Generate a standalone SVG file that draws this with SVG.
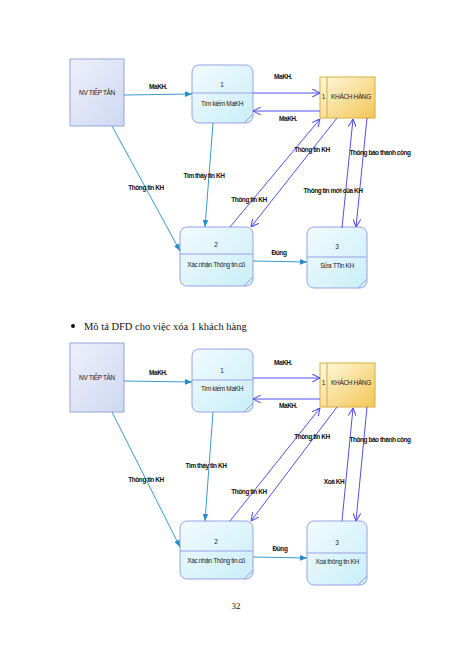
<svg xmlns="http://www.w3.org/2000/svg" width="474" height="652" viewBox="0 0 474 652">
<defs>
<linearGradient id="gNV" x1="0" y1="0" x2="1" y2="1"><stop offset="0" stop-color="#eef0fb"/><stop offset="1" stop-color="#cfd8f2"/></linearGradient>
<linearGradient id="gP" x1="0" y1="0" x2="1" y2="1"><stop offset="0" stop-color="#f2fbfe"/><stop offset="1" stop-color="#c9eef8"/></linearGradient>
<linearGradient id="gS" x1="0" y1="0" x2="1" y2="1"><stop offset="0" stop-color="#fff8e0"/><stop offset="1" stop-color="#f3c656"/></linearGradient>
<marker id="aC" viewBox="0 0 10 10" refX="10" refY="5" markerWidth="7" markerHeight="7" orient="auto" markerUnits="userSpaceOnUse"><path d="M0,1 L10,5 L0,9 z" fill="#2a8cc4"/></marker>
<marker id="aV" viewBox="0 0 10 10" refX="10" refY="5" markerWidth="8" markerHeight="8" orient="auto" markerUnits="userSpaceOnUse"><path d="M0,0 L10,5 L0,10" fill="none" stroke="#4a4ae8" stroke-width="1.3"/></marker>
</defs>
<style>
.nv{fill:url(#gNV);stroke:#95a6d8;stroke-width:1}
.pr{fill:url(#gP);stroke:#9aa0e6;stroke-width:1}
.st{fill:url(#gS);stroke:#d6ad3a;stroke-width:1}
.dv{stroke:#9aa0e6;stroke-width:1;fill:none}
.sd{stroke:#d6ad3a;stroke-width:1;fill:none}
.t{font-family:"Liberation Sans",Arial,sans-serif;font-size:6.5px;letter-spacing:-0.35px;fill:#222;text-anchor:middle}
.lb{font-family:"Liberation Sans",Arial,sans-serif;font-size:6.5px;letter-spacing:-0.45px;font-weight:bold;fill:#111;text-anchor:middle}
.fc{stroke:#3a9ad0;stroke-width:1;fill:none;marker-end:url(#aC)}
.fv{stroke:#5050ec;stroke-width:1;fill:none;marker-end:url(#aV)}
.hd{font-family:"Liberation Serif","Times New Roman",serif;font-size:10.5px;fill:#111}
</style>

<!-- Top diagram -->
<g id="nv1"><rect class="nv" x="70" y="59" width="54" height="67"/><text class="t" x="97" y="95">NV TIẾP TÂN</text></g>
<g id="p1a"><rect class="pr" x="192" y="65" width="61" height="58" rx="7"/><line class="dv" x1="192" y1="93" x2="253" y2="93"/><line class="dv" x1="244" y1="123" x2="253" y2="114"/><text class="t" x="222" y="87">1</text><text class="t" x="222" y="106">Tìm kiếm MaKH</text></g>
<g id="s1a"><rect class="st" x="320" y="77" width="55" height="41"/><line class="sd" x1="327" y1="77" x2="327" y2="118"/><text class="t" x="323.5" y="99">1</text><text class="t" x="351" y="99">KHÁCH HÀNG</text></g>
<g id="p2a"><rect class="pr" x="180" y="227" width="73" height="59" rx="7"/><line class="dv" x1="180" y1="254" x2="253" y2="254"/><line class="dv" x1="244" y1="286" x2="253" y2="277"/><text class="t" x="216" y="247">2</text><text class="t" x="216" y="267">Xác nhận Thông tin cũ</text></g>
<g id="p3a"><rect class="pr" x="307" y="227" width="60" height="61" rx="7"/><line class="dv" x1="307" y1="257" x2="367" y2="257"/><line class="dv" x1="358" y1="288" x2="367" y2="279"/><text class="t" x="337" y="249">3</text><text class="t" x="337" y="268">Sửa TTin KH</text></g>

<g id="conn1">
<line class="fc" x1="124" y1="95" x2="192" y2="94"/>
<line class="fv" x1="253" y1="93" x2="320" y2="93"/>
<line class="fv" x1="320" y1="111" x2="253" y2="111"/>
<line class="fc" x1="112" y1="126" x2="180" y2="251"/>
<line class="fc" x1="213" y1="123" x2="205" y2="227"/>
<line class="fv" x1="230" y1="227" x2="320" y2="119"/>
<line class="fv" x1="337" y1="118" x2="251" y2="227"/>
<line class="fv" x1="342" y1="228" x2="353" y2="119"/>
<line class="fv" x1="367" y1="118" x2="356" y2="227"/>
<line class="fc" x1="253" y1="261" x2="307" y2="262"/>
<text class="lb" x="158" y="89">MaKH.</text>
<text class="lb" x="283" y="79">MaKH.</text>
<text class="lb" x="288" y="121">MaKH.</text>
<text class="lb" x="146" y="190">Thông tin KH</text>
<text class="lb" x="204" y="178">Tìm thấy tin KH</text>
<text class="lb" x="312" y="152">Thông tin KH</text>
<text class="lb" x="249" y="202">Thông tin KH</text>
<text class="lb" x="380" y="155">Thông báo thành công</text>
<text class="lb" x="333" y="193">Thông tin mới của KH</text>
<text class="lb" x="279" y="255">Đúng</text>
</g>

<!-- Heading -->
<circle cx="73" cy="326" r="2" fill="#111"/>
<text class="hd" x="84" y="330">Mô tả DFD cho việc xóa 1 khách hàng</text>

<!-- Bottom diagram -->
<g id="nv2"><rect class="nv" x="70" y="343" width="54" height="69"/><text class="t" x="97" y="380">NV TIẾP TÂN</text></g>
<g id="p1b"><rect class="pr" x="192" y="349" width="61" height="63" rx="7"/><line class="dv" x1="192" y1="380" x2="253" y2="380"/><line class="dv" x1="244" y1="412" x2="253" y2="403"/><text class="t" x="222" y="373">1</text><text class="t" x="222" y="391">Tìm kiếm MaKH</text></g>
<g id="s1b"><rect class="st" x="320" y="363" width="55" height="44"/><line class="sd" x1="327" y1="363" x2="327" y2="407"/><text class="t" x="323.5" y="385">1</text><text class="t" x="351" y="385">KHÁCH HÀNG</text></g>
<g id="p2b"><rect class="pr" x="180" y="521" width="73" height="58" rx="7"/><line class="dv" x1="180" y1="551" x2="253" y2="551"/><line class="dv" x1="244" y1="579" x2="253" y2="570"/><text class="t" x="216" y="544">2</text><text class="t" x="216" y="563">Xác nhận Thông tin cũ</text></g>
<g id="p3b"><rect class="pr" x="307" y="521" width="60" height="64" rx="7"/><line class="dv" x1="307" y1="553" x2="367" y2="553"/><line class="dv" x1="358" y1="585" x2="367" y2="576"/><text class="t" x="337" y="545">3</text><text class="t" x="337" y="564">Xoá thông tin KH</text></g>

<g id="conn2">
<line class="fc" x1="124" y1="381" x2="192" y2="382"/>
<line class="fv" x1="253" y1="378" x2="320" y2="378"/>
<line class="fv" x1="320" y1="399" x2="253" y2="399"/>
<line class="fc" x1="112" y1="412" x2="180" y2="547"/>
<line class="fc" x1="213" y1="412" x2="205" y2="521"/>
<line class="fv" x1="230" y1="521" x2="320" y2="408"/>
<line class="fv" x1="337" y1="407" x2="251" y2="521"/>
<line class="fv" x1="342" y1="521" x2="353" y2="408"/>
<line class="fv" x1="367" y1="407" x2="356" y2="521"/>
<line class="fc" x1="253" y1="557" x2="307" y2="558"/>
<text class="lb" x="158" y="375">MaKH.</text>
<text class="lb" x="283" y="365">MaKH.</text>
<text class="lb" x="288" y="408">MaKH.</text>
<text class="lb" x="146" y="482">Thông tin KH</text>
<text class="lb" x="206" y="468">Tìm thấy tin KH</text>
<text class="lb" x="312" y="439">Thông tin KH</text>
<text class="lb" x="249" y="494">Thông tin KH</text>
<text class="lb" x="380" y="442">Thông báo thành công</text>
<text class="lb" x="334" y="484">Xoá KH</text>
<text class="lb" x="280" y="551">Đúng</text>
</g>

<text class="hd" x="236" y="609" text-anchor="middle" style="font-size:9px">32</text>
</svg>
